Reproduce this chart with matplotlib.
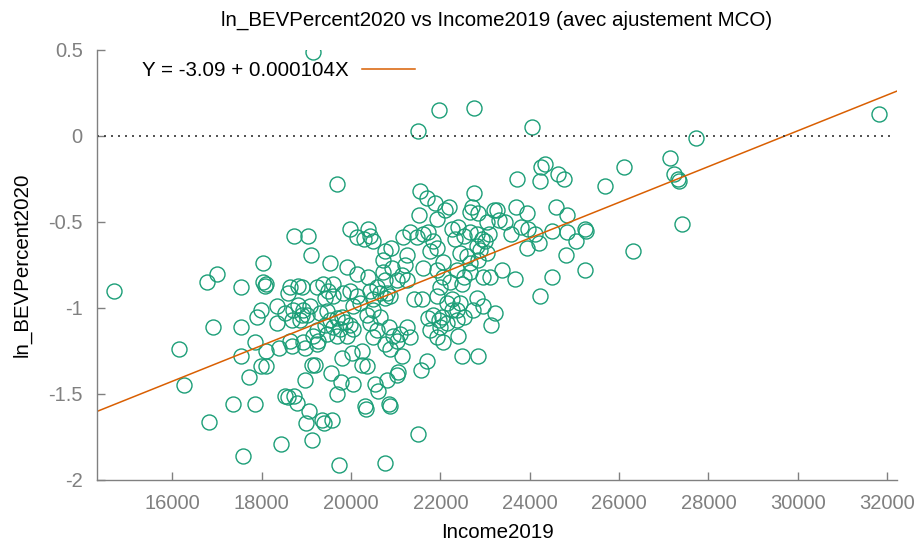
"""
Scatter of ln_BEVPercent2020 against Income2019 with the OLS fit line.
"""

import matplotlib

matplotlib.use("Agg")
import matplotlib.pyplot as plt
import numpy as np

plt.rcParams["font.family"] = ["Liberation Sans", "DejaVu Sans"]

income_2019 = [
    14700, 19160, 19690, 21490, 21960, 22760, 24050, 27730, 31810, 27130,
    27240, 27350, 27330, 27410, 26100, 25690, 26320, 25240, 24510, 24220,
    23380, 23670, 23110, 24250, 24350, 24240, 23720, 24640, 24760, 24580,
    24840, 24500, 24840, 25030, 25240, 25250, 24810, 23940, 24210, 24120,
    23970, 23800, 23580, 23690, 23950, 23200, 23260, 23050, 23320, 23440,
    22760, 22700, 22670, 22850, 21550, 21710, 21870, 22200, 22110, 21520,
    21920, 22260, 22400, 22520, 22820, 22940, 23080, 23000,
    21170, 21320, 21470, 21620, 21730, 21840, 21920, 21770, 22330, 22670,
    18730, 19030, 19110, 19980, 20390, 20130, 20280, 20430, 20500, 20900,
    20760, 22440, 22590, 22670, 22820, 22890, 23040,
    19530, 19900, 20130, 20390, 20720, 20910, 21210, 21140, 21250, 21020,
    20720, 20760, 20580, 20430, 20650, 20800, 20760, 20870, 20500,
    21620, 21920, 22070, 22070, 21990, 22220, 22370, 22520, 22670, 22960,
    21920, 22140, 22260, 22370, 22520, 22740, 22820, 22960, 21400, 21580,
    21730, 21840, 21960, 22140, 21990, 21770, 22400, 21920, 22070,
    21250, 21100, 21320, 20840, 20950, 21020, 20760,
    18640, 18820, 18900, 18600, 18340, 18340, 18520, 18710, 18820, 18930,
    18900, 19010, 19080, 18670, 18860,
    19230, 19380, 19490, 19600, 19420, 19600, 19830, 19980, 20130, 20050,
    19310, 19460, 19530, 19680, 19790, 19870, 19600, 19750, 19980, 19420,
    19230, 19460, 19680, 19900, 20050,
    20200, 20350, 20500, 20650, 20430, 20580,
    18640, 18930, 19230,
    16780, 16990, 17540, 18040, 18040, 18080, 18100, 16900, 17530, 16150,
    16270, 16830, 17350, 17850, 17590, 18430, 19120, 19730, 17720, 17540,
    17850, 17980, 18090, 18090, 18390, 17900, 17990, 18670, 18970, 19160,
    19270, 19200, 19120, 18970, 19550, 19790, 20020, 20240, 20240, 20350,
    19780, 20050, 19680, 18520, 18600, 18730, 18790, 19050, 19000, 19350,
    19400, 19580, 20310, 20330, 20490,
    21510, 20760, 20860, 20870, 20540, 20610, 20800, 21020, 21050, 20870,
    21140, 21560, 21710, 22480, 22850, 22370, 22030, 22270, 22440, 22480,
    23230, 23140, 22850, 21260,
]

ln_bev_2020 = [
    -0.90, 0.49, -0.28, 0.03, 0.15, 0.16, 0.05, -0.01, 0.13, -0.13,
    -0.22, -0.26, -0.25, -0.51, -0.18, -0.29, -0.67, -0.78, -0.82, -0.93,
    -0.78, -0.83, -0.82, -0.18, -0.16, -0.26, -0.25, -0.22, -0.25, -0.41,
    -0.46, -0.55, -0.56, -0.61, -0.54, -0.55, -0.69, -0.65, -0.62, -0.57,
    -0.54, -0.53, -0.57, -0.41, -0.45, -0.43, -0.43, -0.50, -0.49, -0.50,
    -0.33, -0.41, -0.44, -0.45, -0.32, -0.36, -0.39, -0.41, -0.43, -0.46,
    -0.48, -0.54, -0.53, -0.58, -0.57, -0.60, -0.57, -0.61,
    -0.59, -0.56, -0.59, -0.57, -0.56, -0.61, -0.65, -0.67, -0.60, -0.56,
    -0.58, -0.58, -0.69, -0.54, -0.54, -0.59, -0.60, -0.58, -0.61, -0.65,
    -0.67, -0.68, -0.70, -0.74, -0.64, -0.66, -0.68,
    -0.74, -0.76, -0.80, -0.82, -0.72, -0.77, -0.75, -0.81, -0.84, -0.84,
    -0.79, -0.84, -0.88, -0.90, -0.91, -0.91, -0.94, -0.93, -0.95,
    -0.77, -0.78, -0.73, -0.82, -0.88, -0.85, -0.78, -0.82, -0.79, -0.82,
    -0.93, -0.97, -0.95, -1.01, -1.05, -1.01, -0.94, -0.99, -0.95, -0.95,
    -1.06, -1.04, -1.07, -1.09, -1.11, -1.13, -1.16, -1.17, -1.20,
    -1.11, -1.15, -1.17, -1.11, -1.16, -1.19, -1.21,
    -0.88, -0.87, -0.88, -0.91, -0.99, -1.09, -1.03, -1.01, -0.98, -1.01,
    -1.04, -1.04, -0.99, -1.07, -1.07,
    -0.88, -0.86, -0.90, -0.86, -0.94, -0.93, -0.91, -0.90, -0.93, -0.99,
    -1.03, -1.02, -1.07, -1.06, -1.05, -1.08, -1.11, -1.12, -1.10, -1.10,
    -1.13, -1.15, -1.16, -1.16, -1.12,
    -0.97, -1.04, -1.01, -1.05, -1.09, -1.13,
    -1.19, -1.20, -1.21,
    -0.85, -0.80, -0.88, -0.74, -0.85, -0.87, -0.86, -1.11, -1.11, -1.24,
    -1.45, -1.66, -1.56, -1.56, -1.86, -1.79, -1.77, -1.91, -1.40, -1.28,
    -1.20, -1.34, -1.34, -1.25, -1.23, -1.05, -1.01, -1.22, -1.23, -1.16,
    -1.19, -1.33, -1.33, -1.42, -1.38, -1.29, -1.26, -1.25, -1.33, -1.34,
    -1.43, -1.44, -1.50, -1.51, -1.52, -1.51, -1.55, -1.60, -1.67, -1.65,
    -1.67, -1.65, -1.57, -1.59, -1.17,
    -1.73, -1.90, -1.56, -1.57, -1.44, -1.48, -1.42, -1.39, -1.37, -1.24,
    -1.28, -1.36, -1.31, -1.28, -1.28, -1.07, -1.05, -1.01, -0.97, -0.86,
    -1.03, -1.10, -0.72, -0.69,
]

# OLS coefficients as reported in the legend
intercept = -3.09
slope = 0.000104

x_ticks = [16000, 18000, 20000, 22000, 24000, 26000, 28000, 30000, 32000]
y_ticks = [-2, -1.5, -1, -0.5, 0, 0.5]
y_tick_labels = ["-2", "-1.5", "-1", "-0.5", "0", "0.5"]
x_range = (14308, 32230)

green = "#1b9e77"
orange = "#d95f02"
grey = "#808080"
text_size = 14.8
tick_size = 14.5

fig = plt.figure(figsize=(9.23, 5.48), dpi=100)
ax = fig.add_axes([0.1048, 0.1241, 0.8674, 0.7847])

ax.plot(income_2019, ln_bev_2020, linestyle="none", marker="o", markersize=10.8,
        markerfacecolor="none", markeredgecolor=green, markeredgewidth=1.0)

fit_x = np.array(x_range)
ax.plot(fit_x, intercept + slope * fit_x, color=orange, linewidth=1.1,
        label=f"Y = {intercept:.2f} + {slope:.6f}X")

ax.axhline(0, xmax=0.995, color="#333333", linewidth=1.2,
           linestyle=(0, (1.2, 3.0)))

ax.set_xlim(*x_range)
ax.set_ylim(-2, 0.5)
ax.set_xticks(x_ticks)
ax.set_yticks(y_ticks)
ax.set_yticklabels(y_tick_labels)

for side in ("top", "right"):
    ax.spines[side].set_visible(False)
for side in ("left", "bottom"):
    ax.spines[side].set_color(grey)
    ax.spines[side].set_linewidth(1.0)

ax.tick_params(direction="in", length=6, width=1.0, color=grey,
               labelcolor=grey, labelsize=tick_size)
ax.tick_params(axis="x", pad=10)
ax.tick_params(axis="y", pad=10)

# axes box runs from y=50 to y=480 px; title sits at y=20 px
ax.set_title("ln_BEVPercent2020 vs Income2019 (avec ajustement MCO)",
             fontsize=text_size, va="center", y=(480 - 20) / 430, pad=0)

ax.set_xlabel("Income2019", fontsize=text_size, va="center")
ax.xaxis.set_label_coords(0.5, -(533 - 480) / 430)
ax.set_ylabel("ln_BEVPercent2020", fontsize=text_size, va="center")
ax.yaxis.set_label_coords(-(96.7 - 22) / 800.6, 0.5)

ax.legend(loc="center left", bbox_to_anchor=((141.7 - 96.7) / 800.6, (480 - 71) / 430),
          frameon=False, markerfirst=False, fontsize=text_size, handlelength=2.57,
          handletextpad=0.67, borderpad=0, borderaxespad=0)

fig.savefig("out.png", dpi=100)
